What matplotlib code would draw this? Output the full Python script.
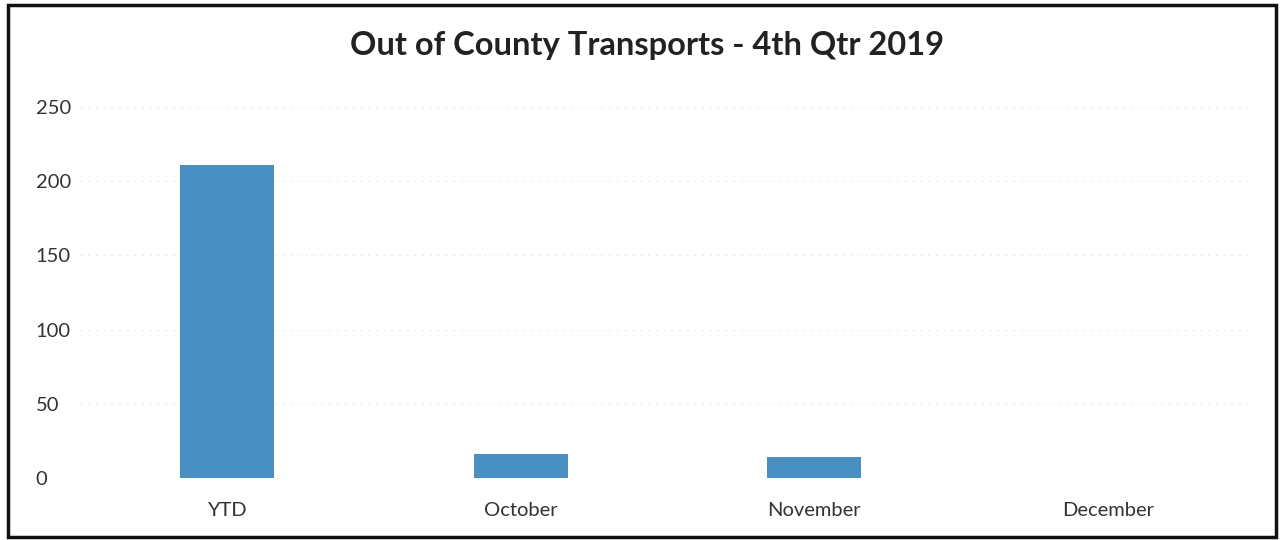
import matplotlib.pyplot as plt
from matplotlib.patches import Rectangle

categories = ["YTD", "October", "November", "December"]
transports = [211, 16, 14, 0]
y_ticks = [0, 50, 100, 150, 200, 250]

plt.rcParams["font.family"] = ["Lato", "DejaVu Sans"]

fig = plt.figure(figsize=(12.83, 5.4), dpi=100)
ax = fig.add_axes([80 / 1283, 1 - 478 / 540, 1175 / 1283, 371 / 540])

x = range(len(categories))
ax.bar(x, transports, width=0.32, color="#4a8fc2", zorder=2)

ax.set_xlim(-0.5, len(categories) - 0.5)
ax.set_ylim(0, 250)
ax.set_yticks(y_ticks)
ax.set_xticks(list(x))
ax.set_xticklabels(categories)
ax.tick_params(axis="both", length=0, labelsize=14.5, colors="#333333")
ax.tick_params(axis="x", pad=17)
ax.tick_params(axis="y", pad=32)
for lbl in ax.get_yticklabels():
    lbl.set_horizontalalignment("left")

ax.yaxis.grid(True, color="#dddddd", linestyle=(0, (1, 6)), linewidth=0.8, zorder=0)
for s in ax.spines.values():
    s.set_visible(False)

fig.text(0.504, 1 - 45 / 540, "Out of County Transports - 4th Qtr 2019",
         ha="center", va="center", fontsize=23.5, fontweight="bold", color="#222222")

# outer frame
fig.patches.append(Rectangle((8 / 1283, 3 / 540), 1268 / 1283, 532 / 540,
                             transform=fig.transFigure, fill=False,
                             edgecolor="#111111", linewidth=2.5))

fig.savefig("out.png", dpi=100)
